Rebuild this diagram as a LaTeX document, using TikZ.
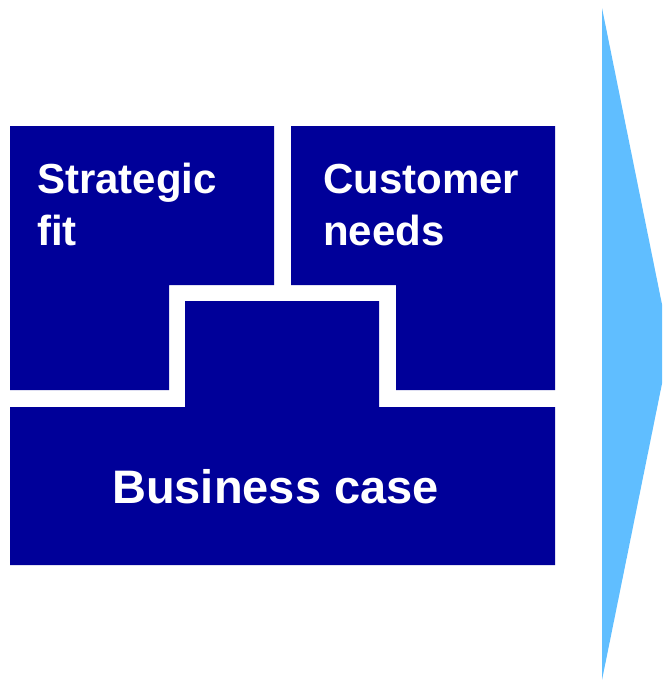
\documentclass[tikz,border=0pt]{standalone}
\usepackage{fontspec}
\setmainfont{Liberation Sans}
\definecolor{blockblue}{RGB}{0,0,153}
\definecolor{arrowblue}{RGB}{96,190,255}
\begin{document}
\begin{tikzpicture}[x=1pt,y=-1pt,
  block/.style={fill=blockblue,draw=none},
  lbl/.style={anchor=base west,inner sep=0pt,text=white,font=\fontsize{42}{52}\bfseries\selectfont},
  biglbl/.style={anchor=base west,inner sep=0pt,text=white,font=\fontsize{47}{56}\bfseries\selectfont}]
\useasboundingbox (0,0) rectangle (662,680);
% arrow (clipped at the right edge)
\begin{scope}
\clip (0,0) rectangle (662,680);
\fill[arrowblue] (602,8) -- (670,344) -- (602,680) -- cycle;
\end{scope}
% Strategic fit
\path[block] (10,126) -- (274,126) -- (274,285) -- (169,285) -- (169,390) -- (10,390) -- cycle;
% Customer needs
\path[block] (291,126) -- (555,126) -- (555,390) -- (396,390) -- (396,285) -- (291,285) -- cycle;
% Business case
\path[block] (185,301) -- (379,301) -- (379,407) -- (555,407) -- (555,565) -- (10,565) -- (10,407) -- (185,407) -- cycle;
\node[lbl] (sf1) at (37,193) {Strategic};
\node[lbl] (sf2) at (37,245) {fit};
\node[lbl] (cn1) at (323,193) {Customer};
\node[lbl] (cn2) at (323,245) {needs};
\node[biglbl] (bc) at (112,503) {Business case};
\end{tikzpicture}
\end{document}
